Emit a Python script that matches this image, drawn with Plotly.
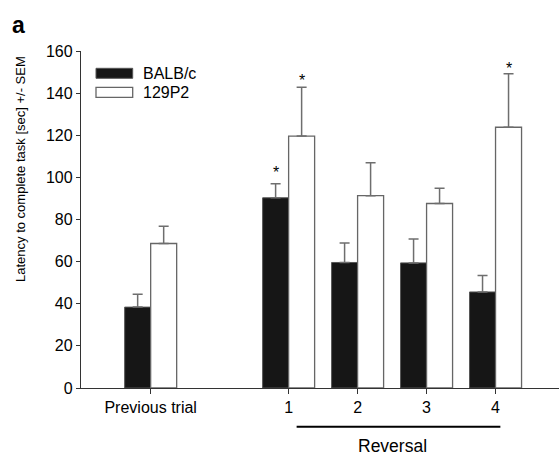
import plotly.graph_objects as go

# ---- data ----
categories = ["Previous trial", "1", "2", "3", "4"]
x_pos = [0, 2, 3, 4, 5]
balb_mean = [38.4, 90.3, 59.6, 59.4, 45.6]
balb_sem = [6.1, 6.7, 9.3, 11.4, 7.8]
p129_mean = [68.6, 119.6, 91.3, 87.6, 123.8]
p129_sem = [8.2, 23.2, 15.6, 7.2, 25.4]
balb_star_y = [None, 104.4, None, None, None]
p129_star_y = [None, 147.8, None, None, 153.8]
series_names = ["BALB/c", "129P2"]
y_ticks = [0, 20, 40, 60, 80, 100, 120, 140, 160]

W, H = 559, 455
L, R, T, B = 81, 0, 51, 67
pw, ph = W - L - R, H - T - B

def px(xp):
    return (xp - L) / pw

def py(yp):
    return (H - B - yp) / ph

FONT = "Liberation Sans, Arial, sans-serif"
GRAY = "#6e6e6e"

fig = go.Figure()
fig.add_trace(go.Bar(
    x=x_pos, y=balb_mean, name=series_names[0],
    marker=dict(color="#161616", line=dict(color="#555555", width=1)),
    error_y=dict(type="data", array=balb_sem, arrayminus=[0] * len(balb_sem),
                 symmetric=False, color=GRAY, thickness=1.5, width=5),
    showlegend=False,
))
fig.add_trace(go.Bar(
    x=x_pos, y=p129_mean, name=series_names[1],
    marker=dict(color="white", line=dict(color="#666666", width=1.3)),
    error_y=dict(type="data", array=p129_sem, arrayminus=[0] * len(p129_sem),
                 symmetric=False, color=GRAY, thickness=1.5, width=5),
    showlegend=False,
))

off = 0.1885
annotations = []
for xv, sy in zip(x_pos, balb_star_y):
    if sy is not None:
        annotations.append(dict(x=xv - off, y=sy, xref="x", yref="y", text="*",
                                showarrow=False, yanchor="middle", yshift=-4,
                                font=dict(family=FONT, size=16, color="black")))
for xv, sy in zip(x_pos, p129_star_y):
    if sy is not None:
        annotations.append(dict(x=xv + off, y=sy, xref="x", yref="y", text="*",
                                showarrow=False, yanchor="middle", yshift=-4,
                                font=dict(family=FONT, size=16, color="black")))

# y-axis title
annotations.append(dict(x=px(20), y=py(169), xref="paper", yref="paper",
                        text="Latency to complete task [sec] +/- SEM", textangle=-90,
                        showarrow=False, xanchor="center", yanchor="middle",
                        font=dict(family=FONT, size=13, color="black")))
# panel label
annotations.append(dict(x=px(10), y=py(40), xref="paper", yref="paper",
                        text="<b>a</b>", showarrow=False, xanchor="left", yanchor="bottom",
                        font=dict(family=FONT, size=23, color="black")))
# Reversal label
annotations.append(dict(x=3.5, y=py(446), xref="x", yref="paper", text="Reversal",
                        showarrow=False, xanchor="center", yanchor="middle",
                        font=dict(family=FONT, size=17.5, color="black")))
# legend text
for name, yc in zip(series_names, [73, 92.5]):
    annotations.append(dict(x=px(141), y=py(yc), xref="paper", yref="paper", text=name,
                            showarrow=False, xanchor="left", yanchor="middle",
                            font=dict(family=FONT, size=16, color="black")))

shapes = [
    dict(type="line", xref="x", yref="paper", x0=2.116, x1=5.07, y0=py(426.7), y1=py(426.7),
         line=dict(color="black", width=2)),
    dict(type="rect", xref="paper", yref="paper", x0=px(96), x1=px(132.7), y0=py(78.3), y1=py(68.3),
         fillcolor="#161616", line=dict(color="#555555", width=1)),
    dict(type="rect", xref="paper", yref="paper", x0=px(96), x1=px(132.7), y0=py(97.3), y1=py(87.3),
         fillcolor="white", line=dict(color="#666666", width=1.3)),
]

fig.update_layout(
    width=W, height=H,
    margin=dict(l=L, r=R, t=T, b=B, pad=0),
    paper_bgcolor="white", plot_bgcolor="white",
    barmode="group", bargap=0.246, bargroupgap=0,
    font=dict(family=FONT, size=16, color="black"),
    annotations=annotations, shapes=shapes,
    xaxis=dict(range=[-1.01, 5.92], tickvals=x_pos, ticktext=categories,
               showgrid=False, zeroline=False, showline=True, linecolor="#333333", linewidth=1.3,
               ticks="outside", ticklen=5, tickcolor="#333333", tickwidth=1.3,
               tickfont=dict(family=FONT, size=16, color="black")),
    yaxis=dict(range=[0, 160], tickvals=y_ticks,
               showgrid=False, zeroline=False, showline=True, linecolor="#333333", linewidth=1.3,
               ticks="outside", ticklen=4, tickcolor="#333333", tickwidth=1.3,
               tickfont=dict(family=FONT, size=16, color="black")),
)

fig.write_html("out.html")
